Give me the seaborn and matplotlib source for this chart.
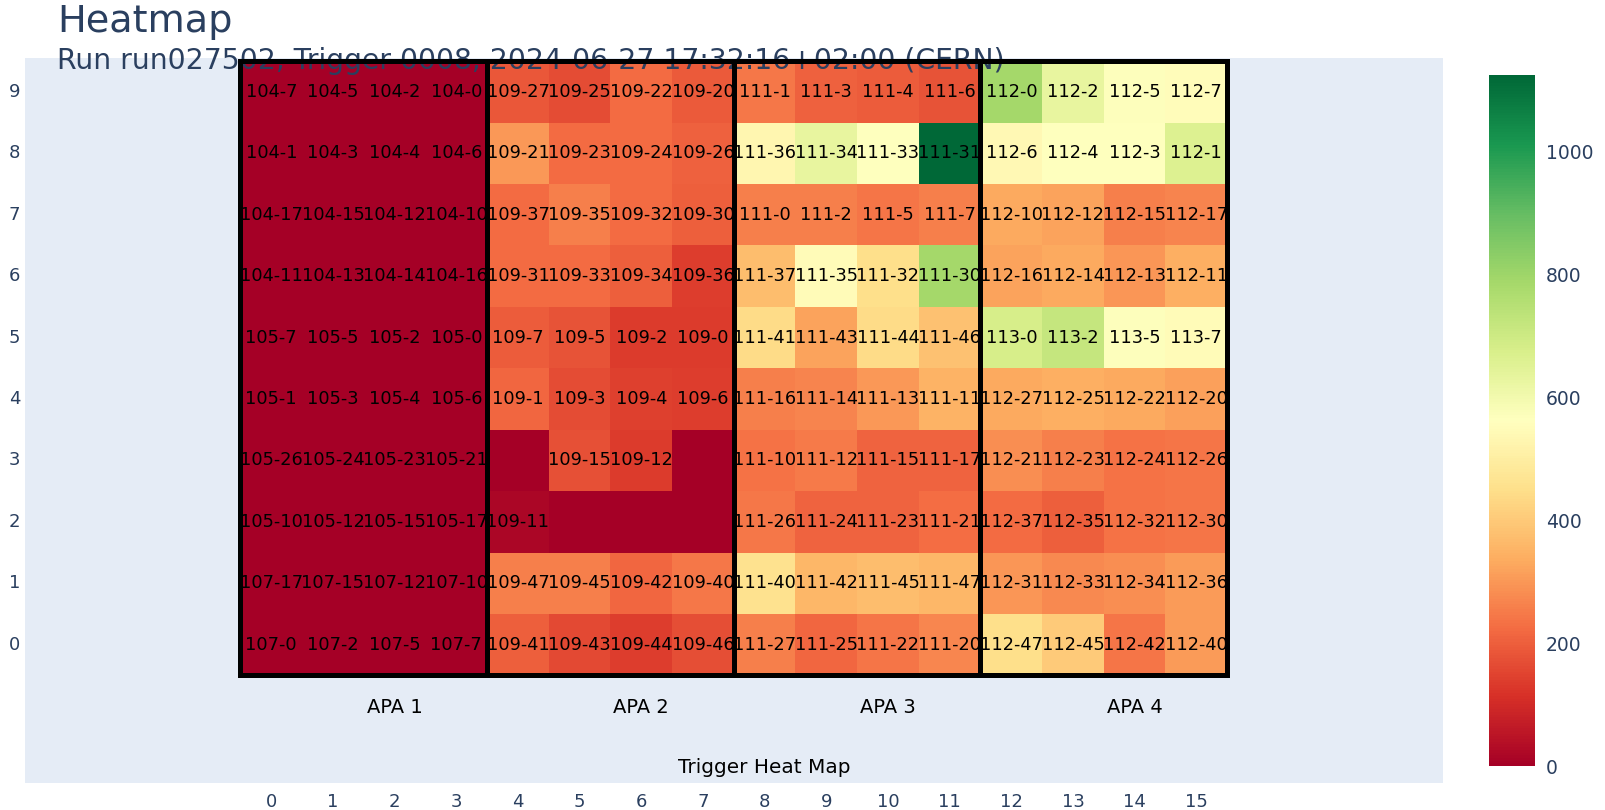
import numpy as np
import pandas as pd
import matplotlib
matplotlib.use("Agg")
import matplotlib.pyplot as plt
from matplotlib.patches import Rectangle
import seaborn as sns

# Rows are listed from y=9 (top) down to y=0 (bottom)
y_labels = [9, 8, 7, 6, 5, 4, 3, 2, 1, 0]
x_labels = list(range(16))
apa_names = ["APA 1", "APA 2", "APA 3", "APA 4"]

apa1_values = [[0, 0, 0, 0]] * 10
apa2_values = [
    [185, 165, 220, 190],
    [300, 220, 220, 205],
    [220, 255, 220, 200],
    [220, 220, 200, 140],
    [195, 180, 135, 135],
    [215, 165, 145, 140],
    [0, 175, 135, 0],
    [15, 0, 0, 0],
    [255, 255, 215, 245],
    [200, 160, 140, 170],
]
apa3_values = [
    [245, 205, 195, 180],
    [530, 630, 565, 1125],
    [255, 255, 240, 255],
    [370, 545, 450, 790],
    [440, 320, 440, 380],
    [255, 265, 300, 350],
    [235, 250, 210, 210],
    [245, 210, 210, 225],
    [460, 360, 370, 360],
    [255, 215, 240, 270],
]
apa4_values = [
    [790, 630, 570, 550],
    [540, 565, 565, 660],
    [330, 320, 255, 265],
    [320, 330, 295, 340],
    [680, 720, 570, 545],
    [330, 340, 330, 315],
    [285, 255, 235, 240],
    [220, 200, 235, 240],
    [295, 275, 285, 305],
    [450, 400, 240, 305],
]

apa1_labels = [
    ["104-7", "104-5", "104-2", "104-0"],
    ["104-1", "104-3", "104-4", "104-6"],
    ["104-17", "104-15", "104-12", "104-10"],
    ["104-11", "104-13", "104-14", "104-16"],
    ["105-7", "105-5", "105-2", "105-0"],
    ["105-1", "105-3", "105-4", "105-6"],
    ["105-26", "105-24", "105-23", "105-21"],
    ["105-10", "105-12", "105-15", "105-17"],
    ["107-17", "107-15", "107-12", "107-10"],
    ["107-0", "107-2", "107-5", "107-7"],
]
apa2_labels = [
    ["109-27", "109-25", "109-22", "109-20"],
    ["109-21", "109-23", "109-24", "109-26"],
    ["109-37", "109-35", "109-32", "109-30"],
    ["109-31", "109-33", "109-34", "109-36"],
    ["109-7", "109-5", "109-2", "109-0"],
    ["109-1", "109-3", "109-4", "109-6"],
    ["", "109-15", "109-12", ""],
    ["109-11", "", "", ""],
    ["109-47", "109-45", "109-42", "109-40"],
    ["109-41", "109-43", "109-44", "109-46"],
]
apa3_labels = [
    ["111-1", "111-3", "111-4", "111-6"],
    ["111-36", "111-34", "111-33", "111-31"],
    ["111-0", "111-2", "111-5", "111-7"],
    ["111-37", "111-35", "111-32", "111-30"],
    ["111-41", "111-43", "111-44", "111-46"],
    ["111-16", "111-14", "111-13", "111-11"],
    ["111-10", "111-12", "111-15", "111-17"],
    ["111-26", "111-24", "111-23", "111-21"],
    ["111-40", "111-42", "111-45", "111-47"],
    ["111-27", "111-25", "111-22", "111-20"],
]
apa4_labels = [
    ["112-0", "112-2", "112-5", "112-7"],
    ["112-6", "112-4", "112-3", "112-1"],
    ["112-10", "112-12", "112-15", "112-17"],
    ["112-16", "112-14", "112-13", "112-11"],
    ["113-0", "113-2", "113-5", "113-7"],
    ["112-27", "112-25", "112-22", "112-20"],
    ["112-21", "112-23", "112-24", "112-26"],
    ["112-37", "112-35", "112-32", "112-30"],
    ["112-31", "112-33", "112-34", "112-36"],
    ["112-47", "112-45", "112-42", "112-40"],
]

values = np.hstack([np.array(apa1_values), np.array(apa2_values),
                    np.array(apa3_values), np.array(apa4_values)]).astype(float)
labels = np.hstack([np.array(apa1_labels), np.array(apa2_labels),
                    np.array(apa3_labels), np.array(apa4_labels)])
df = pd.DataFrame(values, index=y_labels, columns=x_labels)

TXT = "#2a3f5f"
W, H = 1605, 810
fig = plt.figure(figsize=(W / 100, H / 100), dpi=100, facecolor="white")
ax = fig.add_axes([24.6 / W, (H - 783) / H, (1443 - 24.6) / W, (783 - 58) / H])
cax = fig.add_axes([1489 / W, (H - 766) / H, 46 / W, (766 - 75) / H])

sns.heatmap(df, ax=ax, cmap="RdYlGn", vmin=0, vmax=1125,
            annot=labels, fmt="", cbar_ax=cax,
            annot_kws={"color": "black", "fontsize": 12.8})

ax.set_facecolor("#E5ECF6")
ax.set_xlim(-3.5, 19.5)
ax.set_ylim(11.75, -0.05)
ax.set_xticks(np.arange(16) + 0.5)
ax.set_xticklabels([str(v) for v in x_labels], rotation=0)
ax.set_yticks(np.arange(10) + 0.5)
ax.set_yticklabels([str(v) for v in y_labels], rotation=0)
ax.tick_params(axis="both", length=0, labelsize=13, labelcolor=TXT)
ax.tick_params(axis="x", pad=7)
ax.tick_params(axis="y", pad=3)
ax.set_xlabel("")
ax.set_ylabel("")

# APA group boxes
for g in range(4):
    ax.add_patch(Rectangle((4 * g, 0), 4, 10, fill=False, edgecolor="black",
                           linewidth=3.6, zorder=5, clip_on=False))
    ax.text(4 * g + 2.5, 10.52, apa_names[g], ha="center", va="center",
            fontsize=14, color="black")

ax.text(8.5, 11.5, "Trigger Heat Map", ha="center", va="center",
        fontsize=14.4, color="black")

# Titles
fig.text(57 / W, 1 - 22 / H, "Heatmap", fontsize=27.5, color=TXT,
         ha="left", va="center")
ax.text(-3.5 + (57 - 24.6) / 61.6, 0.0, "Run run027502, Trigger 0008, 2024-06-27 17:32:16+02:00 (CERN)",
        fontsize=20.3, color=TXT, ha="left", va="center", zorder=4, clip_on=False)

# colorbar styling
cb = ax.collections[0].colorbar
cb.outline.set_visible(False)
cb.set_ticks([0, 200, 400, 600, 800, 1000])
cax.tick_params(length=0, labelsize=13.5, labelcolor=TXT, pad=8)

fig.savefig("out.png", dpi=100, facecolor="white")
